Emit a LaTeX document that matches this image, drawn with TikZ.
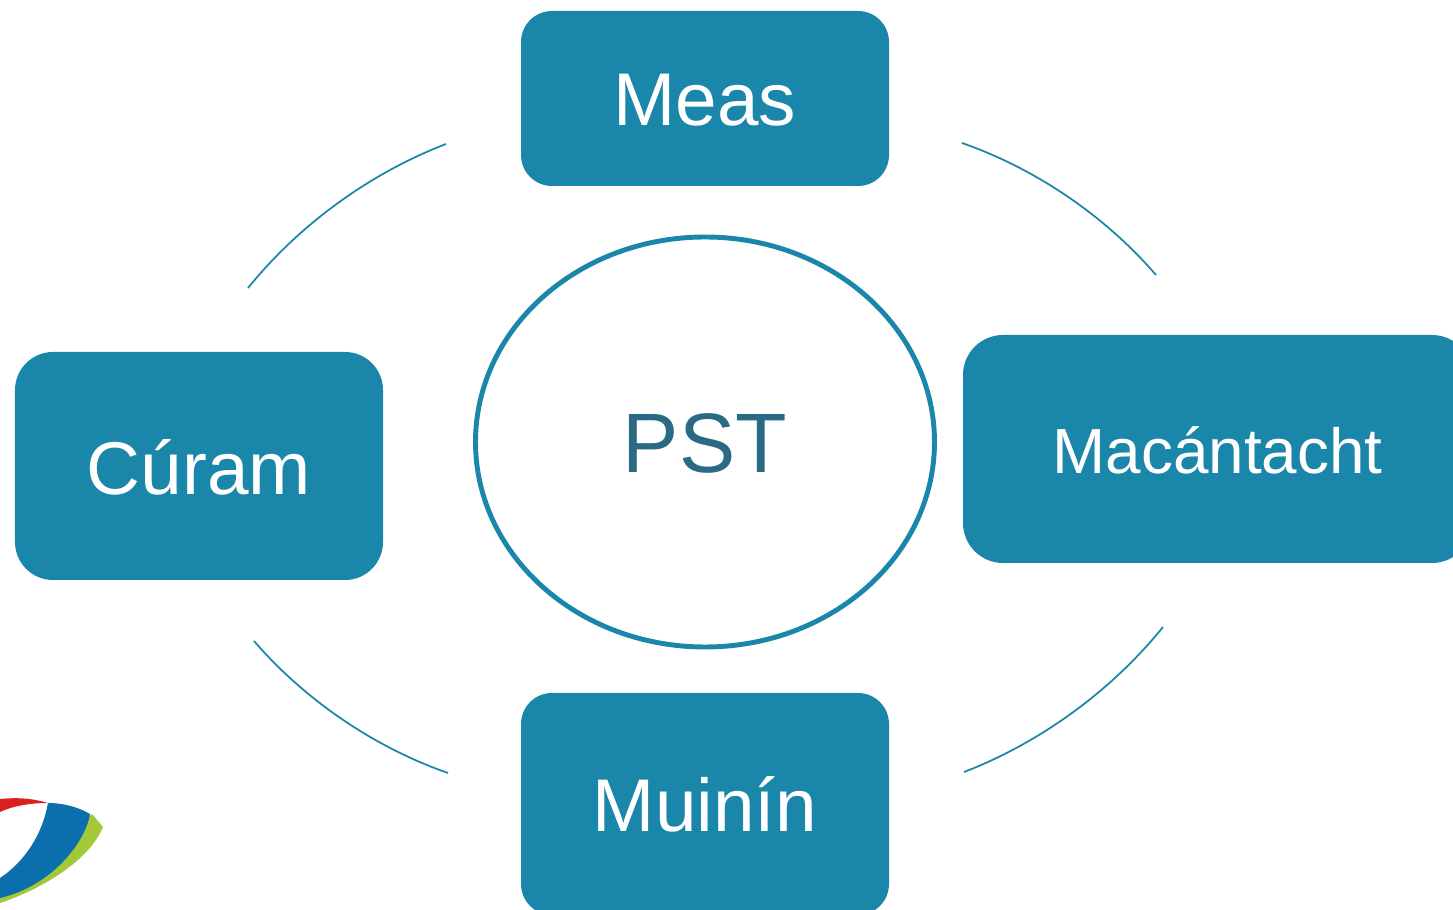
\documentclass[tikz,border=0pt]{standalone}
\usepackage{fontspec}
\setmainfont{Liberation Sans}
\usetikzlibrary{shapes.geometric}
\definecolor{boxblue}{HTML}{1A86A9}
\definecolor{textblue}{HTML}{2A6A85}
\definecolor{logored}{HTML}{D8201E}
\definecolor{logoblue}{HTML}{0B6FAE}
\definecolor{logogreen}{HTML}{A3C83A}
\tikzset{
  valuebox/.style={draw=none,fill=boxblue,text=white,inner sep=0pt,align=center,
    text height=1.08cm,text depth=0pt},
  arcline/.style={draw=boxblue,line width=1pt,looseness=0.85}
}
\begin{document}
\begin{tikzpicture}
    \useasboundingbox (0,0) rectangle (29.06,18.18);
    \clip (0,0) rectangle (29.06,18.18);
    % centre
    \node[ellipse,draw=boxblue,line width=2.8pt,minimum width=9.18cm,minimum height=8.2cm,
      inner sep=0pt,text=textblue,font=\fontsize{48}{48}\selectfont,
      text height=1.22cm,text depth=0pt] (pst) at (14.1,9.34) {PST};
    % boxes
    \node[valuebox,rounded corners=0.62cm,minimum width=7.36cm,minimum height=3.5cm,
      text height=1.1cm,font=\fontsize{42.5}{42.5}\selectfont] (meas) at (14.1,16.21) {Meas};
    \node[valuebox,rounded corners=0.8cm,minimum width=10.18cm,minimum height=4.56cm,
      text height=1cm,font=\fontsize{36.3}{36.3}\selectfont] (macantacht) at (24.35,9.2) {Macántacht};
    \node[valuebox,rounded corners=0.76cm,minimum width=7.36cm,minimum height=4.56cm,
      text height=1.14cm,font=\fontsize{42.5}{42.5}\selectfont] (curam) at (3.98,8.86) {Cúram};
    \node[valuebox,rounded corners=0.62cm,minimum width=7.36cm,minimum height=4.44cm,
      text height=1.1cm,font=\fontsize{42.5}{42.5}\selectfont] (muinin) at (14.1,2.1) {Muinín};
    % arcs
    \coordinate (tla) at (8.92,15.30);
    \coordinate (tlb) at (4.96,12.42);
    \coordinate (tra) at (19.24,15.32);
    \coordinate (trb) at (23.12,12.68);
    \coordinate (bra) at (23.26,5.64);
    \coordinate (brb) at (19.28,2.74);
    \coordinate (bla) at (5.08,5.36);
    \coordinate (blb) at (8.96,2.72);
    \draw[arcline] (tla) to[bend right=15] (tlb);
    \draw[arcline] (tra) to[bend left=15] (trb);
    \draw[arcline] (bra) to[bend left=15] (brb);
    \draw[arcline] (bla) to[bend right=15] (blb);
    % logo
    \fill[logored] (0,2.2) .. controls (0.4,2.24) and (0.7,2.2) .. (0.96,2.12)
      .. controls (0.6,2.12) and (0.25,2.06) .. (0,1.94) -- cycle;
    \fill[logogreen] (1.84,1.9) -- (2.06,1.64)
      .. controls (1.8,1.0) and (0.9,0.42) .. (0,0.12) -- (0,0.3) -- cycle;
    \fill[logoblue] (0.96,2.12) .. controls (1.3,2.12) and (1.6,2.02) .. (1.8,1.9)
      .. controls (1.7,1.3) and (1.0,0.45) .. (0,0.22) -- (0,0.62)
      .. controls (0.5,0.95) and (0.85,1.5) .. cycle;
\end{tikzpicture}
\end{document}
